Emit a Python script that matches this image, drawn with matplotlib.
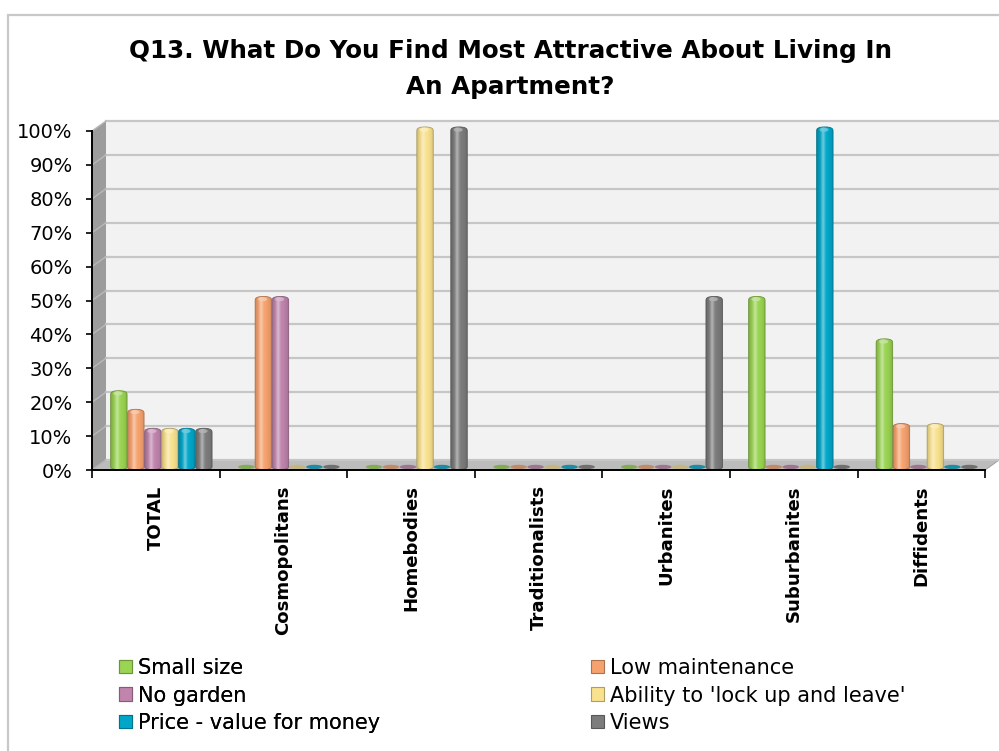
import numpy as np
import matplotlib
matplotlib.use("Agg")
import matplotlib.pyplot as plt
from matplotlib.patches import Polygon, Ellipse, Rectangle, Patch
from matplotlib.ticker import PercentFormatter
from matplotlib.colors import to_rgb

TITLE = "Q13. What Do You Find Most Attractive About Living In\nAn Apartment?"
SEGMENTS = ["TOTAL", "Cosmopolitans", "Homebodies", "Traditionalists",
            "Urbanites", "Suburbanites", "Diffidents"]
SERIES = ["Small size", "Low maintenance", "No garden",
          "Ability to 'lock up and leave'", "Price - value for money", "Views"]
COLORS = ["#9ad452", "#f6a26e", "#c084ad", "#f9e28e", "#00a6c8", "#7c7c7c"]

# % of respondents per segment
SMALL_SIZE = [22.2, 0, 0, 0, 0, 50, 37.5]
LOW_MAINT = [16.7, 50, 0, 0, 0, 0, 12.5]
NO_GARDEN = [11.1, 50, 0, 0, 0, 0, 0]
LOCK_UP = [11.1, 0, 100, 0, 0, 0, 12.5]
PRICE = [11.1, 0, 0, 0, 0, 100, 0]
VIEWS = [11.1, 0, 100, 0, 50, 0, 0]
VALUES = [SMALL_SIZE, LOW_MAINT, NO_GARDEN, LOCK_UP, PRICE, VIEWS]

W, H = 999, 751
PX_X = 127.6          # pixels per category
PX_Y = 3.39           # pixels per percent
DX, DY = 14 / PX_X, 10 / PX_Y      # depth of the fake 3D box
BASE = 0.9            # bars stand halfway into the floor
EH = 0.8              # half height of the bottom ellipse
DOME = 1.5            # height of the rounded top
FIRST = 0.21          # first bar centre inside a category
SLOT = 17 / PX_X
BAR_W = 16.5 / PX_X


def shade(color, amount):
    c = np.array(to_rgb(color))
    if amount >= 0:
        return tuple(c + (1 - c) * amount)
    return tuple(c * (1 + amount))


def gradient(color, n=64):
    c = np.array(to_rgb(color))
    t = np.linspace(0, 1, n)
    dark = 0.78 + 0.22 * np.sin(np.pi * t) ** 0.5
    hi = 0.40 * np.exp(-((t - 0.36) / 0.12) ** 2)
    rgb = c[None, :] * dark[:, None]
    rgb = rgb + (1 - rgb) * hi[:, None]
    return np.clip(rgb, 0, 1)[None, :, :]


def cylinder(ax, xc, value, color):
    yb, yt = BASE, BASE + value + 0.3
    a = np.linspace(np.pi, 2 * np.pi, 40)
    b = np.linspace(0, np.pi, 40)
    lower = np.column_stack([xc + BAR_W / 2 * np.cos(a), yb + EH * np.sin(a)])
    upper = np.column_stack([xc + BAR_W / 2 * np.cos(b),
                             yt - DOME + DOME * np.sin(b) ** 0.5])
    outline = np.vstack([lower, upper])
    clip = Polygon(outline, closed=True, facecolor="none", edgecolor="none")
    ax.add_patch(clip)
    im = ax.imshow(gradient(color), extent=(xc - BAR_W / 2, xc + BAR_W / 2, yb - EH, yt),
                   aspect="auto", interpolation="bilinear", zorder=3)
    im.set_clip_path(clip)
    ax.add_patch(Polygon(outline, closed=True, fill=False,
                         edgecolor=shade(color, -0.3), lw=0.6, zorder=3.1))
    ax.add_patch(Ellipse((xc - BAR_W * 0.05, yt - DOME * 0.55), BAR_W * 0.55, 1.2,
                         facecolor=shade(color, 0.45), edgecolor="none", alpha=0.8, zorder=3.2))


def disc(ax, xc, color):
    ax.add_patch(Ellipse((xc, BASE), BAR_W, 1.6 * EH, facecolor=shade(color, -0.2),
                         edgecolor="none", alpha=0.85, zorder=3))


def draw_box(ax, n):
    right = 8.0
    # back wall, side wall and floor
    ax.add_patch(Polygon([(DX, DY), (right, DY), (right, 100 + DY), (DX, 100 + DY)],
                         facecolor="#f2f2f2", edgecolor="none", zorder=0))
    ax.add_patch(Polygon([(0, 0), (DX, DY), (DX, 100 + DY), (0, 100)],
                         facecolor="#9c9c9c", edgecolor="none", zorder=0.5))
    ax.add_patch(Polygon([(0, 0), (n, 0), (n + DX, DY), (DX, DY)],
                         facecolor="#bcbcbc", edgecolor="#9a9a9a", lw=0.6, zorder=0.5))
    for v in range(0, 101, 10):
        ax.plot([DX, right], [v + DY, v + DY], color="#c6c6c6", lw=1.6, zorder=1)
        ax.plot([0, DX], [v, v + DY], color="#b8b8b8", lw=1.0, zorder=1)


def main():
    fig = plt.figure(figsize=(W / 100, H / 100), dpi=100)
    left, right, top, bottom = 92, 999, 112, 480
    ax = fig.add_axes([left / W, 1 - bottom / H, (right - left) / W, (bottom - top) / H])
    n = len(SEGMENTS)

    draw_box(ax, n)
    for g in range(n):
        for k, (vals, col) in enumerate(zip(VALUES, COLORS)):
            xc = g + FIRST + k * SLOT
            if vals[g] > 0:
                cylinder(ax, xc, vals[g], col)
            else:
                disc(ax, xc, col)

    ax.set_xlim(0, (right - left) / PX_X)
    ax.set_ylim((470 - bottom) / PX_Y, (470 - top) / PX_Y)
    ax.set_facecolor("none")

    for s in ("top", "right"):
        ax.spines[s].set_visible(False)
    ax.spines["left"].set_bounds(0, 100)
    ax.spines["left"].set_linewidth(1.4)
    ax.spines["bottom"].set_position(("data", 0))
    ax.spines["bottom"].set_bounds(0, n)
    ax.spines["bottom"].set_linewidth(1.4)
    ax.spines["left"].set_zorder(4)
    ax.spines["bottom"].set_zorder(4)

    ax.set_yticks(range(0, 101, 10))
    ax.yaxis.set_major_formatter(PercentFormatter(decimals=0))
    ax.tick_params(axis="y", length=4, width=1.2, pad=10, labelsize=14)
    ax.set_xticks(range(n + 1))
    ax.set_xticklabels([])
    ax.set_xticks(np.arange(n) + 0.5, minor=True)
    ax.set_xticklabels(SEGMENTS, minor=True, rotation=90, fontweight="bold", fontsize=13.1)
    ax.tick_params(axis="x", which="major", length=6, width=1.2)
    ax.tick_params(axis="x", which="minor", length=0, pad=11)

    fig.text(510 / W, 1 - 69 / H, TITLE, ha="center", va="center", fontsize=17.7,
             fontweight="bold", linespacing=1.6)

    handles = [Patch(facecolor=c, edgecolor=shade(c, -0.3), lw=0.8) for c in COLORS]
    opts = dict(frameon=False, fontsize=15, handlelength=0.62, handleheight=0.62,
                handletextpad=0.3, labelspacing=0.36, borderpad=0, borderaxespad=0,
                loc="upper left")
    leg1 = fig.legend(handles[0::2], SERIES[0::2], bbox_to_anchor=(119 / W, 1 - 658 / H), **opts)
    fig.legend(handles[1::2], SERIES[1::2], bbox_to_anchor=(591 / W, 1 - 658 / H), **opts)
    fig.add_artist(leg1)

    fig.add_artist(Rectangle((8 / W, -0.1), 1.2, 1.1 - 15 / H, transform=fig.transFigure,
                             fill=False, edgecolor="#c8c8c8", lw=1.6))
    fig.savefig("out.png", dpi=100)


if __name__ == "__main__":
    main()
